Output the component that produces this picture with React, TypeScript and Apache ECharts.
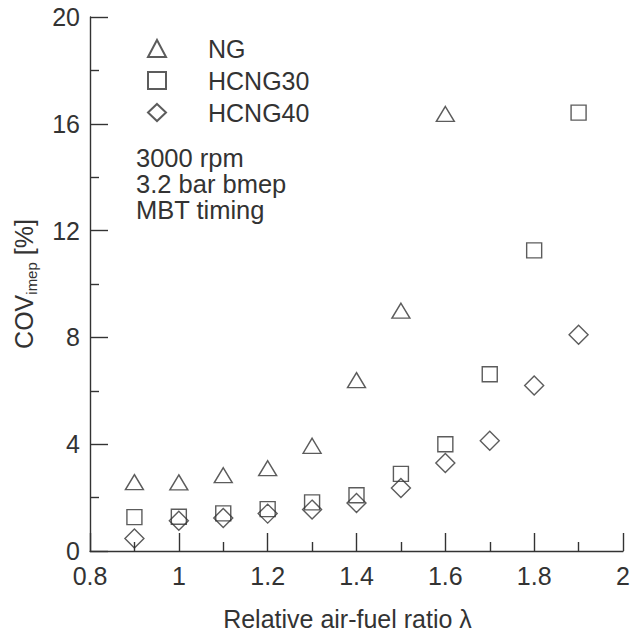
import React, { useEffect, useRef } from "react";
import * as echarts from "echarts";

const lambda = [0.9, 1.0, 1.1, 1.2, 1.3, 1.4, 1.5, 1.6, 1.7, 1.8, 1.9];
const ngValues = [2.58, 2.57, 2.84, 3.1, 3.94, 6.4, 9.0, 16.37];
const hcng30Values = [1.27, 1.28, 1.41, 1.57, 1.82, 2.09, 2.89, 4.0, 6.62, 11.26, 16.42];
const hcng40Values = [0.47, 1.13, 1.24, 1.4, 1.55, 1.8, 2.36, 3.3, 4.13, 6.2, 8.1];
const seriesNames = ["NG", "HCNG30", "HCNG40"];
const annotationLines = ["3000 rpm", "3.2 bar bmep", "MBT timing"];

const INK = "#333";
const FONT = "'Liberation Sans', Arial, sans-serif";

function pairs(xs: number[], ys: number[]) {
  return ys.map((y, i) => [xs[i], y]);
}

export default function App() {
  const ref = useRef<HTMLDivElement>(null);
  useEffect(() => {
    if (!ref.current) return;
    const chart = echarts.init(ref.current, undefined, { renderer: "svg" });
    const markerStyle = { color: "transparent", borderColor: INK, borderWidth: 1.4 };
    chart.setOption({
      animation: false,
      backgroundColor: "#fff",
      textStyle: { fontFamily: FONT },
      grid: { left: 90, right: 8, top: 17, bottom: 81, outerBoundsMode: "none", containLabel: false },
      legend: {
        data: seriesNames,
        orient: "vertical",
        left: 142,
        top: 31,
        itemWidth: 18,
        itemHeight: 17,
        itemGap: 7,
        symbolKeepAspect: true,
        textStyle: { fontSize: 25, color: INK, fontFamily: FONT, padding: [0, 0, 0, 37] },
      },
      xAxis: {
        type: "value",
        min: 0.8,
        max: 2,
        interval: 0.2,
        name: "Relative air-fuel ratio λ",
        nameLocation: "middle",
        nameGap: 55,
        nameTextStyle: { fontSize: 25, color: INK, fontFamily: FONT, padding: [0, 18, 0, 0] },
        axisLine: { lineStyle: { color: INK, width: 1.4 } },
        axisTick: { inside: true, length: 18, lineStyle: { color: INK, width: 1.4 } },
        minorTick: { show: true, splitNumber: 2, length: 9, lineStyle: { color: INK, width: 1.4 } },
        axisLabel: { fontSize: 25, color: INK, margin: 12, fontFamily: FONT },
        splitLine: { show: false },
      },
      yAxis: {
        type: "value",
        min: 0,
        max: 20,
        interval: 4,
        name: "{a|COV}{b|imep}{a| [%]}",
        nameLocation: "middle",
        nameGap: 51,
        nameTextStyle: {
          color: INK,
          fontFamily: FONT,
          rich: {
            a: { fontSize: 25, color: INK, fontFamily: FONT, lineHeight: 30, verticalAlign: "middle" },
            b: { fontSize: 15, color: INK, fontFamily: FONT, verticalAlign: "bottom", lineHeight: 30 },
          },
        },
        axisLine: { show: true, lineStyle: { color: INK, width: 1.4 } },
        axisTick: { show: true, inside: true, length: 18, lineStyle: { color: INK, width: 1.4 } },
        minorTick: { show: true, splitNumber: 2, length: 9, lineStyle: { color: INK, width: 1.4 } },
        axisLabel: { fontSize: 25, color: INK, margin: 10, fontFamily: FONT },
        splitLine: { show: false },
      },
      graphic: annotationLines.map((line, i) => ({
        type: "text",
        left: 136,
        top: 145 + i * 26,
        style: {
          text: line,
          fontSize: 25.5,
          fontFamily: FONT,
          fill: INK,
        },
      })),
      series: [
        {
          name: seriesNames[0],
          type: "scatter",
          symbol: "triangle",
          symbolSize: [18, 15],
          itemStyle: markerStyle,
          data: pairs(lambda, ngValues),
        },
        {
          name: seriesNames[1],
          type: "scatter",
          symbol: "rect",
          symbolSize: 15,
          itemStyle: markerStyle,
          data: pairs(lambda, hcng30Values),
        },
        {
          name: seriesNames[2],
          type: "scatter",
          symbol: "diamond",
          symbolSize: 19,
          itemStyle: markerStyle,
          data: pairs(lambda, hcng40Values),
        },
      ],
    });
    return () => chart.dispose();
  }, []);
  return (
    <div
      ref={ref}
      style={{ position: "fixed", left: 0, top: 0, width: 631, height: 632, background: "#fff" }}
    />
  );
}
